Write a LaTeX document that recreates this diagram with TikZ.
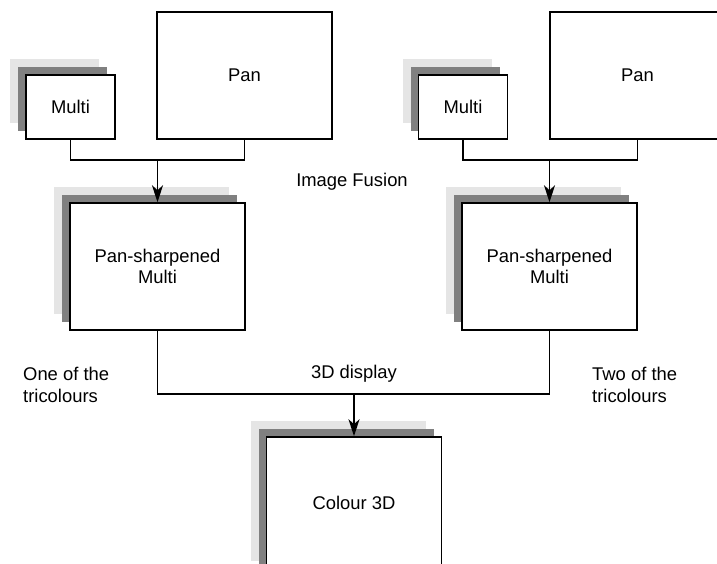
\documentclass[tikz,border=0pt]{standalone}
\usepackage{fontspec}
\setmainfont{Liberation Sans}
\usetikzlibrary{arrows.meta,positioning,shadows}

\begin{document}
\begin{tikzpicture}[
    x=1pt, y=-1pt,
    font=\fontsize{18.4}{21.5}\selectfont,
    imgbox/.style={draw=black, line width=1.5pt, fill=white, align=center, inner sep=0pt,
        general shadow={shadow xshift=-16pt, shadow yshift=16pt, fill=black!10},
        general shadow={shadow xshift=-8pt, shadow yshift=8pt, fill=black!50}},
    panbox/.style={draw=black, line width=1.5pt, fill=white, inner sep=0pt,
        minimum width=175pt, minimum height=127pt},
    smallbox/.style={imgbox, minimum width=89pt, minimum height=64pt},
    bigbox/.style={imgbox, minimum width=175pt, minimum height=127pt},
    link/.style={line width=1.5pt},
    flow/.style={link, -{Stealth[length=17pt, width=11pt, inset=5pt]}},
    lbl/.style={inner sep=0pt, align=left}
]
\useasboundingbox (0,0) rectangle (717,563);
\clip (0,0) rectangle (717,563);

% left fusion
\node[smallbox] (multiL) at (70.5,107) {Multi};
\node[panbox] (panL) at (244.5,75.5) {Pan};
\node[bigbox] (sharpL) at (157.5,266.5) {Pan-sharpened\\Multi};
\coordinate (jL) at (157.5,160);

% right fusion
\node[smallbox] (multiR) at (463,107) {Multi};
\node[panbox] (panR) at (637.5,75.5) {Pan};
\node[bigbox] (sharpR) at (549.5,266.5) {Pan-sharpened\\Multi};
\coordinate (jR) at (549.5,160);

% 3D result (cut off by the lower edge)
\node[bigbox, minimum height=140pt] (colour) at (354,507) {\raisebox{9pt}{Colour 3D}};
\coordinate (jD) at (354,394);

% labels
\node[lbl] (fusion) at (352,182) {Image Fusion};
\node[lbl] (display) at (354,374) {3D display};
\node[lbl, anchor=west] (oneof) at (23,385) {One of the\\tricolours};
\node[lbl, anchor=west] (twoof) at (592,385) {Two of the\\tricolours};

% connectors
\draw[link] (multiL.south) |- (jL) -| (panL.south);
\draw[flow] (jL) -- (sharpL.north);
\draw[link] (multiR.south) |- (jR) -| (panR.south);
\draw[flow] (jR) -- (sharpR.north);
\draw[link] (sharpL.south) |- (jD) -| (sharpR.south);
\draw[flow] (jD) -- (colour.north);
\end{tikzpicture}
\end{document}
